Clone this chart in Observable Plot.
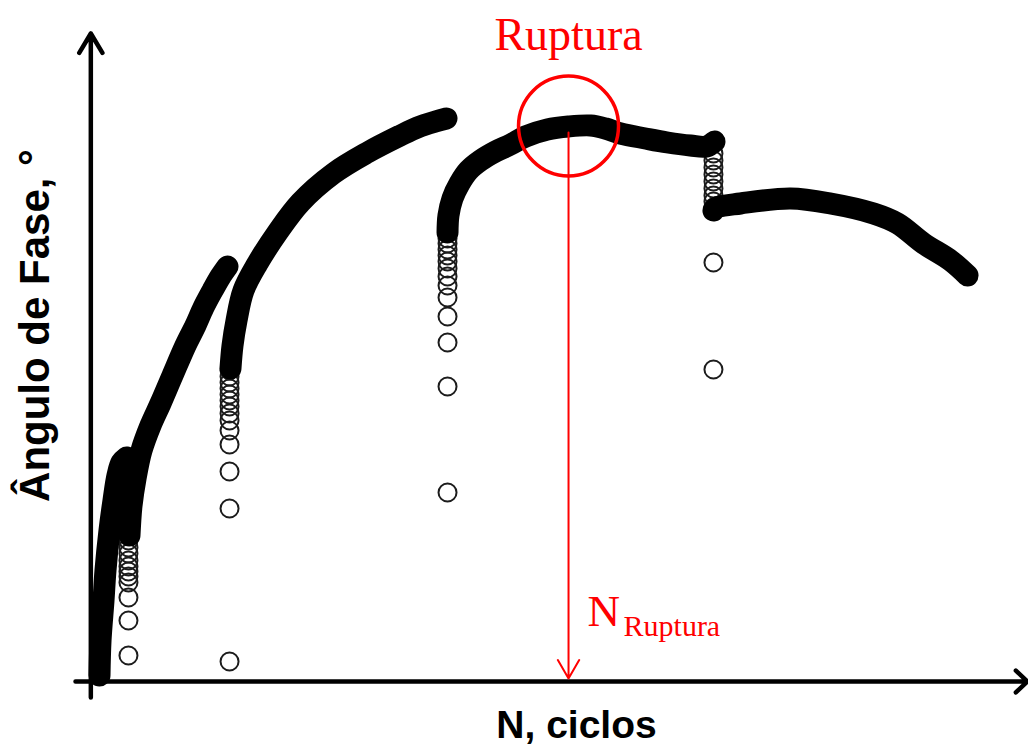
<!DOCTYPE html>
<html>
<head>
<meta charset="utf-8">
<script src="https://cdn.jsdelivr.net/npm/d3@7"></script>
<script src="https://cdn.jsdelivr.net/npm/@observablehq/plot@0.6"></script>
<style>
  html, body { margin: 0; padding: 0; background: #fff; }
  #chart svg { display: block; }
</style>
</head>
<body>
<div id="chart"></div>
<script>
// Phase angle (°) versus number of cycles N (thousands), one block per load stage.
// Dense readings form a continuous band; isolated readings at the start of each
// stage are shown as single open circles.

// Stage 1 – dense readings
const stage1 = [
  [1.02, 0.6], [1.14, 4.1], [1.49, 8.1], [1.72, 11.1], [2.19, 15.1],
  [2.66, 18.1], [3.13, 20.6], [3.60, 21.9], [4.19, 22.4]
];

// Stage 2 – isolated start readings and dense readings
const stage2Start = [
  [4.42, 2.6], [4.42, 6.1], [4.42, 8.4], [4.42, 9.9], [4.42, 10.5], [4.42, 11.0],
  [4.42, 11.5], [4.42, 12.1], [4.42, 12.8], [4.42, 13.4], [4.42, 14.1]
];
const stage2 = [
  [4.54, 14.6], [4.78, 17.6], [5.25, 20.3], [5.95, 23.1], [7.01, 25.6],
  [8.18, 27.8], [9.59, 30.6], [11.12, 33.6], [12.29, 35.6], [13.23, 37.4],
  [14.29, 39.1], [15.23, 40.5], [16.05, 41.5]
];

// Stage 3
const stage3Start = [
  [16.29, 2.0], [16.29, 17.3], [16.29, 21.0], [16.29, 23.7], [16.29, 25.1],
  [16.29, 26.1], [16.29, 26.8], [16.29, 27.5], [16.29, 28.1], [16.29, 28.7],
  [16.29, 29.3], [16.29, 29.9], [16.29, 30.5], [16.29, 31.1]
];
const stage3 = [
  [16.40, 31.3], [16.64, 33.6], [17.11, 36.1], [17.93, 39.1], [19.57, 41.8],
  [21.92, 44.9], [24.62, 47.9], [28.49, 50.8], [32.49, 52.9], [36.36, 54.6],
  [38.36, 55.4], [40.48, 56.0], [41.77, 56.3]
];

// Stage 4 (contains the maximum phase angle)
const stage4Start = [
  [41.89, 18.9], [41.89, 29.5], [41.89, 33.9], [41.89, 36.5], [41.89, 38.4],
  [41.89, 39.6], [41.89, 40.5], [41.89, 41.3], [41.89, 42.0], [41.89, 42.6],
  [41.89, 43.2], [41.89, 43.8], [41.89, 44.3]
];
const stage4 = [
  [41.89, 44.9], [42.00, 46.6], [42.47, 48.3], [43.30, 49.8], [44.35, 51.1],
  [45.76, 52.1], [47.53, 53.0], [49.29, 53.7], [51.05, 54.5], [53.62, 55.2],
  [56.10, 55.5], [58.68, 55.6], [60.44, 55.3], [62.20, 54.8], [65.13, 54.3],
  [67.72, 53.9], [70.42, 53.6], [72.30, 53.5], [73.24, 54.0]
];

// Stage 5
const stage5Start = [
  [73.12, 31.2], [73.12, 41.9], [73.12, 47.4], [73.12, 48.0], [73.12, 48.6],
  [73.12, 49.3], [73.12, 50.0], [73.12, 50.7], [73.12, 51.4], [73.12, 52.1],
  [73.12, 52.8]
];
const stage5 = [
  [73.12, 47.1], [73.48, 47.4], [76.30, 47.8], [82.17, 48.3], [86.87, 47.8],
  [91.92, 46.8], [94.74, 45.8], [97.79, 43.8], [100.96, 42.1], [102.96, 40.6]
];

// Rupture point: maximum of the phase angle
const rupture = {n: 56.10, angle: 55.5, ring: 55.55, shaftTop: 54.9};

// Axis extents (frame of the drawing)
const xDomain = [-1.8, 110];
const yDomain = [-1.6, 64.8];

const xLabel = "N, ciclos";
const yLabel = "Ângulo de Fase, °";
const ruptureTitle = "Ruptura";
const nSymbol = "N";
const nSubscript = "Ruptura";

const RED = "#ff0000";
const SERIF = "'Liberation Serif', 'Times New Roman', serif";
const SANS = "'Liberation Sans', Arial, sans-serif";

const px = d => d[0];
const py = d => d[1];

const band = (data) => Plot.line(data, {
  x: px, y: py, stroke: "#000", strokeWidth: 22,
  strokeLinecap: "round", strokeLinejoin: "round", curve: "catmull-rom"
});
const rings = (data) => Plot.dot(data, {
  x: px, y: py, r: 9, fill: "none", stroke: "#1c1c1c", strokeWidth: 2
});

const chart = Plot.plot({
  width: 1028,
  height: 747,
  marginLeft: 75,
  marginRight: 1,
  marginTop: 33,
  marginBottom: 50,
  x: {domain: xDomain, axis: null},
  y: {domain: yDomain, axis: null},
  marks: [
    // axes with arrowheads
    Plot.arrow([0], {
      x1: xDomain[0], y1: 0, x2: xDomain[1], y2: 0,
      stroke: "#000", strokeWidth: 4.5, headAngle: 86, headLength: 5.3,
      strokeLinecap: "round", strokeLinejoin: "round"
    }),
    Plot.arrow([0], {
      x1: 0, y1: yDomain[0], x2: 0, y2: yDomain[1],
      stroke: "#000", strokeWidth: 4.5, headAngle: 62, headLength: 7.5,
      strokeLinecap: "round", strokeLinejoin: "round"
    }),

    // data
    rings(stage2Start), rings(stage3Start), rings(stage4Start), rings(stage5Start),
    band(stage1), band(stage2), band(stage3), band(stage4), band(stage5),

    // rupture annotation
    Plot.dot([rupture], {
      x: "n", y: "ring", r: 50, fill: "none", stroke: RED, strokeWidth: 3.5
    }),
    Plot.arrow([rupture], {
      x1: "n", y1: "shaftTop", x2: "n", y2: 0,
      stroke: RED, strokeWidth: 2, headAngle: 60, headLength: 16, insetEnd: 3
    }),
    Plot.text([ruptureTitle], {
      x: rupture.n, y: rupture.angle, dy: -91,
      fill: RED, fontSize: 46, fontFamily: SERIF, textAnchor: "middle"
    }),
    Plot.text([nSymbol], {
      x: rupture.n, y: 0, dx: 19, dy: -70,
      fill: RED, fontSize: 45, fontFamily: SERIF, textAnchor: "start"
    }),
    Plot.text([nSubscript], {
      x: rupture.n, y: 0, dx: 55, dy: -55,
      fill: RED, fontSize: 30, fontFamily: SERIF, textAnchor: "start"
    }),

    // axis titles
    Plot.text([xLabel], {
      frameAnchor: "bottom", dx: 25, dy: 40,
      fill: "#000", fontSize: 39, fontWeight: "bold", fontFamily: SANS
    }),
    Plot.text([yLabel], {
      frameAnchor: "left", rotate: -90, dx: -40, dy: -40, textAnchor: "middle",
      fill: "#000", fontSize: 42, fontWeight: "bold", fontFamily: SANS
    })
  ]
});

document.getElementById("chart").append(chart);
</script>
</body>
</html>
